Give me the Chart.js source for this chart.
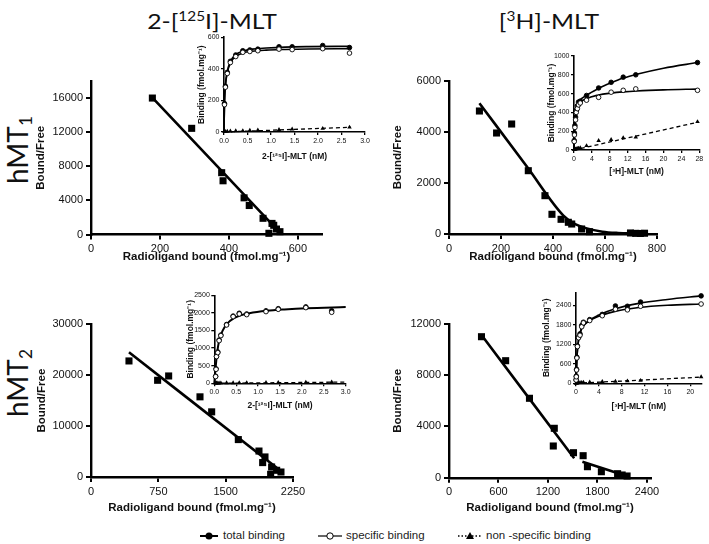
<!DOCTYPE html>
<html lang="pt">
<head>
<meta charset="utf-8">
<title>Scatchard hMT1 / hMT2</title>
<script src="https://cdn.jsdelivr.net/npm/chart.js@4.4.1/dist/chart.umd.min.js"></script>
<style>
  html, body { margin: 0; padding: 0; background: #fff; }
  body { position: relative; width: 709px; height: 544px; overflow: hidden; font-family: 'Liberation Sans', Arial, sans-serif; }
  canvas { position: absolute; }
  sup { font-size: 0.62em; vertical-align: 0.55em; line-height: 0; }
  sub { font-size: 0.62em; vertical-align: -0.25em; line-height: 0; }
  .cabecalho { position: absolute; font-family: Lato, sans-serif; font-size: 21px; color: #111; white-space: nowrap; transform: translate(-50%, -50%) scaleX(1.18); }
  .linha { position: absolute; font-family: Lato, sans-serif; font-size: 28px; color: #111; white-space: nowrap; transform: translate(-50%, -50%) rotate(-90deg); }
  .legenda { position: absolute; top: 529px; font-size: 11.5px; color: #222; white-space: nowrap; }
</style>
</head>
<body>
<div class="cabecalho" style="left:212px; top:20px">2-[<sup>125</sup>I]-MLT</div>
<div class="cabecalho" style="left:549px; top:20px">[<sup>3</sup>H]-MLT</div>
<div class="linha" style="left:17px; top:150px">hMT<sub>1</sub></div>
<div class="linha" style="left:17px; top:383px">hMT<sub>2</sub></div>

<svg style="position:absolute; left:195px; top:528px" width="300" height="16">
  <line x1="5" y1="8" x2="23" y2="8" stroke="#000" stroke-width="2"/>
  <circle cx="14" cy="8" r="3.5" fill="#000"/>
  <line x1="123" y1="8" x2="147" y2="8" stroke="#000" stroke-width="1.2"/>
  <circle cx="135" cy="8" r="3.2" fill="#fff" stroke="#000" stroke-width="1"/>
  <line x1="263" y1="8" x2="287" y2="8" stroke="#000" stroke-width="1.3" stroke-dasharray="1.5,2"/>
  <polygon points="275,4 279,11 271,11" fill="#000"/>
</svg>
<span class="legenda" style="left:223px">total binding</span>
<span class="legenda" style="left:346px">specific binding</span>
<span class="legenda" style="left:486px">non -specific binding</span>

<script>
// hMT1 - 2-[125I]-MLT (Scatchard)
const ligadoMT1I = [178, 292, 379, 383, 444, 459, 499, 525, 530, 516, 538, 548];
const bfMT1I = [16000, 12450, 7250, 6300, 4300, 3400, 1900, 1300, 1080, 140, 640, 330];
const retaMT1IX = [178, 548];
const retaMT1IY = [16050, 210];

// hMT1 - [3H]-MLT (Scatchard)
const ligadoMT1H = [117, 183, 241, 305, 369, 396, 431, 459, 472, 510, 540, 698, 718, 736, 752];
const bfMT1H = [4814, 3953, 4305, 2478, 1500, 771, 575, 458, 391, 196, 90, 40, 25, 20, 30];
const curvaMT1HX = [117, 300, 440, 480, 530, 590, 650, 720];
const curvaMT1HY = [5120, 2630, 720, 420, 220, 90, 40, 20];

// hMT2 - 2-[125I]-MLT (Scatchard)
const ligadoMT2I = [423, 742, 865, 1214, 1344, 1641, 1871, 1938, 1912, 2012, 2001, 2068, 2116];
const bfMT2I = [22800, 19000, 19850, 15750, 12800, 7350, 5100, 3940, 2830, 1970, 530, 1320, 980];
const retaMT2IX = [423, 2104];
const retaMT2IY = [24500, 1310];

// hMT2 - [3H]-MLT (Scatchard), duas retas
const ligadoMT2H = [394, 687, 976, 1277, 1265, 1510, 1627, 1679, 1848, 2045, 2100, 2160];
const bfMT2H = [11008, 9135, 6200, 3857, 2475, 1952, 1718, 859, 468, 312, 211, 133];
const retaMT2HaX = [394, 1518];
const retaMT2HaY = [11140, 1515];
const retaMT2HbX = [1618, 2180];
const retaMT2HbY = [1250, 80];

// insert hMT1 2-[125I]-MLT (saturacao)
const concMT1I = [0.01, 0.03, 0.07, 0.135, 0.25, 0.4, 0.55, 0.72, 1.17, 1.45, 2.1, 2.67];
const totalMT1I = [180, 290, 378, 448, 488, 515, 520, 525, 540, 540, 548, 535];
const especMT1I = [173, 284, 371, 440, 478, 505, 510, 515, 525, 522, 528, 500];
const inespMT1I = [2, 3, 4, 5, 7, 8, 10, 12, 15, 18, 22, 30];
const ajusteMT1IX = [0, 0.01, 0.03, 0.07, 0.14, 0.25, 0.4, 0.6, 0.9, 1.3, 1.8, 2.7];
const ajTotalMT1I = [0, 180, 300, 385, 450, 490, 512, 525, 532, 538, 541, 543];
const ajEspecMT1I = [0, 175, 290, 375, 440, 478, 500, 512, 519, 523, 526, 528];
const ajInespMT1IX = [0, 2.7];
const ajInespMT1I = [0, 30];

// insert hMT1 [3H]-MLT
const concMT1H = [0.05, 0.1, 0.2, 0.35, 0.5, 0.75, 1.0, 1.4, 2.8, 5.5, 8.3, 11, 13.8, 27.6];
const totalMT1H = [100, 180, 260, 350, 420, 470, 510, 520, 580, 660, 720, 775, 800, 930];
const especMT1H = [90, 160, 240, 320, 400, 440, 480, 500, 530, 560, 615, 635, 650, 635];
const inespMT1H = [3, 5, 8, 10, 12, 15, 18, 22, 45, 100, 110, 130, 135, 300];
const ajusteMT1HX = [0, 0.1, 0.3, 0.6, 1, 2.8, 5.5, 8.3, 11, 14, 20, 27.6];
const ajTotalMT1H = [0, 190, 340, 440, 505, 580, 655, 715, 765, 805, 870, 930];
const ajEspecMT1H = [0, 170, 320, 420, 480, 545, 585, 605, 618, 628, 640, 648];
const ajInespMT1HX = [0, 27.6];
const ajInespMT1H = [0, 295];

// insert hMT2 2-[125I]-MLT
const concMT2I = [0.03, 0.04, 0.05, 0.08, 0.11, 0.15, 0.28, 0.43, 0.57, 0.74, 1.18, 1.46, 2.09, 2.68];
const totalMT2I = [200, 410, 770, 890, 1230, 1370, 1670, 1910, 1990, 1970, 2060, 2120, 2170, 2060];
const especMT2I = [190, 398, 758, 871, 1212, 1354, 1657, 1894, 1970, 1950, 2036, 2102, 2150, 2017];
const inespMT2I = [2, 3, 4, 5, 6, 8, 10, 12, 14, 16, 20, 22, 28, 35];
const ajusteMT2IX = [0, 0.05, 0.1, 0.2, 0.3, 0.45, 0.6, 0.8, 1.2, 1.6, 2.1, 3.0];
const ajTotalMT2I = [0, 700, 1150, 1520, 1700, 1850, 1930, 1990, 2060, 2100, 2135, 2165];
const ajInespMT2IX = [0, 3.0];
const ajInespMT2I = [0, 35];

// insert hMT2 [3H]-MLT
const concMT2H = [0.02, 0.05, 0.1, 0.15, 0.25, 0.45, 0.7, 1.0, 1.3, 2.4, 4.6, 6.9, 9.0, 11.3, 21.9];
const totalMT2H = [110, 220, 430, 800, 1150, 1420, 1520, 1780, 1880, 1960, 2120, 2380, 2370, 2500, 2690];
const especMT2H = [100, 200, 410, 780, 1130, 1400, 1480, 1740, 1860, 1930, 2080, 2280, 2260, 2370, 2440];
const inespMT2H = [2, 4, 8, 10, 14, 18, 20, 25, 28, 35, 50, 60, 70, 85, 195];
const ajusteMT2HX = [0, 0.2, 0.5, 1, 2, 4, 7, 11, 16, 21.9];
const ajTotalMT2H = [0, 900, 1400, 1700, 1900, 2100, 2300, 2460, 2580, 2690];
const ajEspecMT2H = [0, 880, 1380, 1680, 1880, 2060, 2220, 2330, 2400, 2440];
const ajInespMT2HX = [0, 21.9];
const ajInespMT2H = [0, 190];

// ticks dos eixos
const ticksX1 = [0, 200, 400, 600];
const ticksY1 = [0, 4000, 8000, 12000, 16000];
const ticksX2 = [0, 200, 400, 600, 800];
const ticksY2 = [0, 2000, 4000, 6000];
const ticksX3 = [0, 750, 1500, 2250];
const ticksY3 = [0, 10000, 20000, 30000];
const ticksX4 = [0, 600, 1200, 1800, 2400];
const ticksY4 = [0, 4000, 8000, 12000];
const ticksConcI = [0, 0.5, 1.0, 1.5, 2.0, 2.5, 3.0];
const ticksConcMT1H = [0, 4, 8, 12, 16, 20, 24, 28];
const ticksConcMT2H = [0, 4, 8, 12, 16, 20];
const ticksBind1 = [0, 200, 400, 600];
const ticksBind2 = [0, 200, 400, 600, 800, 1000];
const ticksBind3 = [0, 500, 1000, 1500, 2000, 2500];
const ticksBind4 = [0, 600, 1200, 1800, 2400];

const pares = (xs, ys) => xs.map((x, i) => ({ x: x, y: ys[i] }));

function quadrados(xs, ys) {
    return { data: pares(xs, ys), pointStyle: 'rect', pointRadius: 5, backgroundColor: '#000', borderColor: '#000', borderWidth: 0, showLine: false, clip: false };
}
function circulos(xs, ys, cheio) {
    return { data: pares(xs, ys), pointStyle: 'circle', pointRadius: 2.3, backgroundColor: cheio ? '#000' : '#fff', borderColor: '#000', borderWidth: 0.9, showLine: false, clip: false };
}
function triangulos(xs, ys) {
    return { data: pares(xs, ys), pointStyle: 'triangle', pointRadius: 2.6, backgroundColor: '#000', borderColor: '#000', borderWidth: 0, showLine: false, clip: false };
}
function curva(xs, ys, largura, tracejada) {
    return { data: pares(xs, ys), showLine: true, pointRadius: 0, borderColor: '#000', borderWidth: largura, borderDash: tracejada ? [4, 3] : [], cubicInterpolationMode: 'monotone', clip: false };
}

function eixo(min, max, valores, titulo, fonteTick, fonteTitulo, grosso, ajuste, decimais) {
    return {
        type: 'linear', min: min, max: max,
        afterBuildTicks: s => { s.ticks = valores.map(v => ({ value: v })); },
        afterFit: ajuste,
        ticks: { color: '#111', font: fonteTick, padding: grosso ? 3 : 1.5, callback: v => decimais ? v.toFixed(1) : String(v) },
        grid: { drawOnChartArea: false, drawTicks: true, tickLength: grosso ? 5 : 3, color: '#000', lineWidth: grosso ? 2 : 1.3 },
        border: { display: true, color: '#000', width: grosso ? 2.4 : 1.6 },
        title: { display: true, text: titulo, color: '#111', font: fonteTitulo, padding: 0 }
    };
}

// area = caixa do grafico em px da pagina; centroTitulo* = centro dos titulos dos eixos
function grafico(o) {
    const lh = o.fonteTitulo.size * 1.2;
    const esquerda = Math.round(o.centroTituloY - lh / 2);
    const larguraY = o.area.l - esquerda;
    const topo = Math.round(o.area.t - 8);
    const alturaX = (o.centroTituloX + lh / 2) - o.area.b;
    const largura = Math.round(o.area.r + 12) - esquerda;
    const altura = Math.ceil(o.area.b + alturaX + 1) - topo;

    const canvas = document.createElement('canvas');
    canvas.width = largura;
    canvas.height = altura;
    canvas.style.left = esquerda + 'px';
    canvas.style.top = topo + 'px';
    document.body.appendChild(canvas);

    new Chart(canvas, {
        type: 'scatter',
        data: { datasets: o.datasets },
        options: {
            responsive: false,
            animation: false,
            events: [],
            layout: { padding: { left: 0, top: o.area.t - topo, right: largura - (o.area.r - esquerda), bottom: altura - (o.area.b + alturaX - topo) } },
            plugins: { legend: { display: false }, tooltip: { enabled: false } },
            scales: {
                x: eixo(0, o.xMax, o.ticksX, o.tituloX, o.fonteTick, o.fonteTitulo, o.grosso,
                    s => { s.height = alturaX; s.paddingLeft = 0; s.paddingRight = 0; }, o.decimais),
                y: eixo(0, o.yMax, o.ticksY, o.tituloY, o.fonteTick, o.fonteTitulo, o.grosso,
                    s => { s.width = larguraY; s.paddingTop = 0; s.paddingBottom = 0; }, false)
            }
        }
    });
}

const fontePrincipal = { family: 'Liberation Sans', size: 11 };
const tituloPrincipal = { family: 'Liberation Sans', size: 11.5, weight: 'bold' };
const fonteInsert = { family: 'Liberation Sans', size: 7 };
const tituloInsert = { family: 'Liberation Sans', size: 8.5, weight: 'bold' };
const textoLigado = 'Radioligand bound (fmol.mg\u207B\u00B9)';
const textoBinding = 'Binding (fmol.mg\u207B\u00B9)';

// graficos principais (Scatchard)
grafico({
    area: { l: 91, t: 81, r: 322, b: 234.5 }, xMax: 670, yMax: 18000, ticksX: ticksX1, ticksY: ticksY1,
    tituloX: textoLigado, tituloY: 'Bound/Free', centroTituloX: 257, centroTituloY: 41,
    fonteTick: fontePrincipal, fonteTitulo: tituloPrincipal, grosso: true,
    datasets: [quadrados(ligadoMT1I, bfMT1I), curva(retaMT1IX, retaMT1IY, 2.6)]
});
grafico({
    area: { l: 449, t: 80.7, r: 657, b: 234 }, xMax: 800, yMax: 6000, ticksX: ticksX2, ticksY: ticksY2,
    tituloX: textoLigado, tituloY: 'Bound/Free', centroTituloX: 257, centroTituloY: 398,
    fonteTick: fontePrincipal, fonteTitulo: tituloPrincipal, grosso: true,
    datasets: [quadrados(ligadoMT1H, bfMT1H), curva(curvaMT1HX, curvaMT1HY, 2.6)]
});
grafico({
    area: { l: 91, t: 324.3, r: 293, b: 477 }, xMax: 2250, yMax: 30000, ticksX: ticksX3, ticksY: ticksY3,
    tituloX: textoLigado, tituloY: 'Bound/Free', centroTituloX: 508, centroTituloY: 41.5,
    fonteTick: fontePrincipal, fonteTitulo: tituloPrincipal, grosso: true,
    datasets: [quadrados(ligadoMT2I, bfMT2I), curva(retaMT2IX, retaMT2IY, 2.6)]
});
grafico({
    area: { l: 449, t: 324, r: 651, b: 477.7 }, xMax: 2450, yMax: 12000, ticksX: ticksX4, ticksY: ticksY4,
    tituloX: textoLigado, tituloY: 'Bound/Free', centroTituloX: 508, centroTituloY: 398,
    fonteTick: fontePrincipal, fonteTitulo: tituloPrincipal, grosso: true,
    datasets: [quadrados(ligadoMT2H, bfMT2H), curva(retaMT2HaX, retaMT2HaY, 2.6), curva(retaMT2HbX, retaMT2HbY, 2.6)]
});

// inserts de saturacao
grafico({
    area: { l: 224, t: 37.3, r: 365, b: 132 }, xMax: 3, yMax: 600, ticksX: ticksConcI, ticksY: ticksBind1, decimais: true,
    tituloX: '2-[\u00B9\u00B2\u2075I]-MLT (nM)', tituloY: textoBinding, centroTituloX: 157, centroTituloY: 202,
    fonteTick: fonteInsert, fonteTitulo: tituloInsert, grosso: false,
    datasets: [circulos(concMT1I, especMT1I, false), circulos(concMT1I, totalMT1I, true), triangulos(concMT1I, inespMT1I),
        curva(ajusteMT1IX, ajEspecMT1I, 1.6), curva(ajusteMT1IX, ajTotalMT1I, 1.6), curva(ajInespMT1IX, ajInespMT1I, 1.3, true)]
});
grafico({
    area: { l: 574, t: 56, r: 699.3, b: 150 }, xMax: 28, yMax: 1000, ticksX: ticksConcMT1H, ticksY: ticksBind2,
    tituloX: '[\u00B3H]-MLT (nM)', tituloY: textoBinding, centroTituloX: 171.7, centroTituloY: 551.7,
    fonteTick: fonteInsert, fonteTitulo: tituloInsert, grosso: false,
    datasets: [circulos(concMT1H, especMT1H, false), circulos(concMT1H, totalMT1H, true), triangulos(concMT1H, inespMT1H),
        curva(ajusteMT1HX, ajEspecMT1H, 1.6), curva(ajusteMT1HX, ajTotalMT1H, 1.6), curva(ajInespMT1HX, ajInespMT1H, 1.3, true)]
});
grafico({
    area: { l: 214.3, t: 295.3, r: 345.7, b: 383.3 }, xMax: 3, yMax: 2500, ticksX: ticksConcI, ticksY: ticksBind3, decimais: true,
    tituloX: '2-[\u00B9\u00B2\u2075I]-MLT (nM)', tituloY: textoBinding, centroTituloX: 405.7, centroTituloY: 191,
    fonteTick: fonteInsert, fonteTitulo: tituloInsert, grosso: false,
    datasets: [circulos(concMT2I, especMT2I, false), circulos(concMT2I, totalMT2I, true), triangulos(concMT2I, inespMT2I),
        curva(ajusteMT2IX, ajTotalMT2I, 2), curva(ajInespMT2IX, ajInespMT2I, 1.3, true)]
});
grafico({
    area: { l: 576, t: 292.3, r: 701.7, b: 383.3 }, xMax: 22, yMax: 2800, ticksX: ticksConcMT2H, ticksY: ticksBind4,
    tituloX: '[\u00B3H]-MLT (nM)', tituloY: textoBinding, centroTituloX: 406.7, centroTituloY: 547,
    fonteTick: fonteInsert, fonteTitulo: tituloInsert, grosso: false,
    datasets: [circulos(concMT2H, especMT2H, false), circulos(concMT2H, totalMT2H, true), triangulos(concMT2H, inespMT2H),
        curva(ajusteMT2HX, ajEspecMT2H, 1.6), curva(ajusteMT2HX, ajTotalMT2H, 1.6), curva(ajInespMT2HX, ajInespMT2H, 1.3, true)]
});
</script>
</body>
</html>
